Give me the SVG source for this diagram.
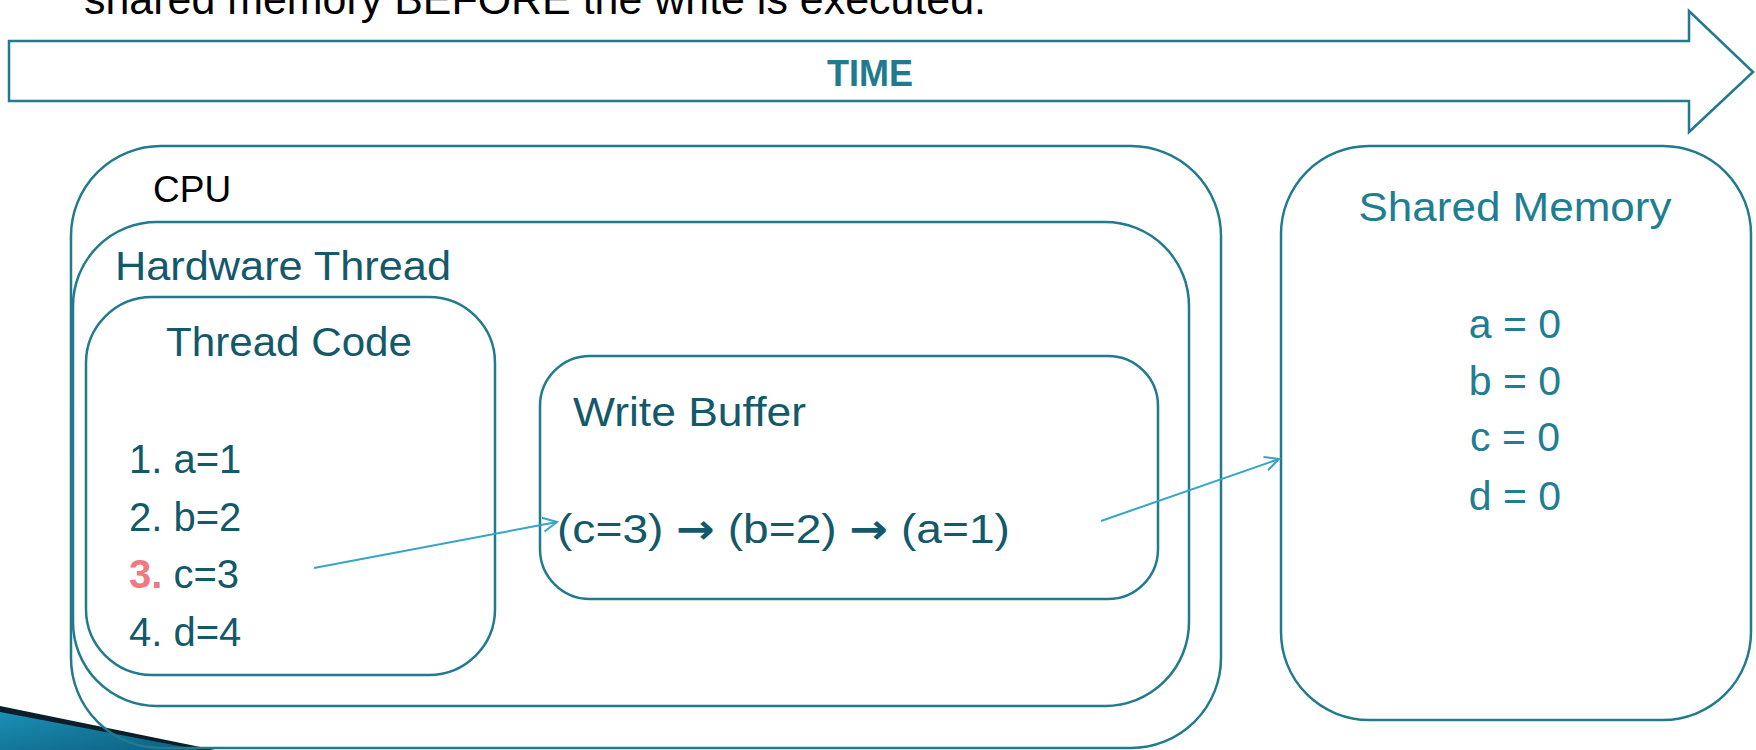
<svg xmlns="http://www.w3.org/2000/svg" width="1756" height="750" viewBox="0 0 1756 750">
  <defs>
    <style>
      .box { fill: #ffffff; stroke: #217a8e; stroke-width: 2.5; }
      .t { font-family: "Liberation Sans", Arial, sans-serif; }
      .dark { fill: #13596a; }
      .mem { fill: #217d92; }
      .arrowglyph { font-family: "DejaVu Sans", sans-serif; font-weight: bold; }
      .wire { fill: none; stroke: #34a5c6; stroke-width: 2; }
    </style>
    <marker id="openHead" viewBox="0 0 20 20" refX="18" refY="10" markerWidth="20" markerHeight="20" markerUnits="userSpaceOnUse" orient="auto">
      <path d="M4,3 L18,10 L4,17" fill="none" stroke="#34a5c6" stroke-width="2"/>
    </marker>
    <linearGradient id="wedgeFill" x1="0" y1="0" x2="1" y2="1">
      <stop offset="0" stop-color="#1b8fb4"/>
      <stop offset="1" stop-color="#0c5f80"/>
    </linearGradient>
  </defs>

  <!-- heading line, cut off at the top edge -->
  <text class="t" x="84" y="14" font-size="43" fill="#000000" textLength="902" lengthAdjust="spacingAndGlyphs">shared memory BEFORE the write is executed.</text>

  <!-- time arrow -->
  <g id="time">
    <path d="M9,41 L1689,41 L1689,11 L1753,72 L1689,132 L1689,101 L9,101 Z" fill="#ffffff" stroke="#217a8e" stroke-width="2.5"/>
    <text class="t" x="870" y="86" font-size="36" font-weight="bold" fill="#217a8e" text-anchor="middle">TIME</text>
  </g>

  <!-- corner decoration -->
  <g id="corner">
    <polygon points="0,706 215,750 0,750" fill="#0a1f2a"/>
    <polygon points="0,712 200,750 0,750" fill="url(#wedgeFill)"/>
  </g>

  <g id="cpu">
    <rect class="box" x="71" y="146" width="1150" height="602" rx="90" ry="90" fill="none" style="fill:none"/>
    <text class="t" x="153" y="202" font-size="37" fill="#000000">CPU</text>
  </g>

  <g id="hardware-thread">
    <rect class="box" x="73" y="222" width="1116" height="484" rx="84" ry="84"/>
    <text class="t dark" x="115" y="280" font-size="41" textLength="336" lengthAdjust="spacingAndGlyphs">Hardware Thread</text>
  </g>

  <g id="thread-code">
    <rect class="box" x="86" y="297" width="409" height="378" rx="66" ry="66"/>
    <text class="t dark" x="166" y="356" font-size="41" textLength="246" lengthAdjust="spacingAndGlyphs">Thread Code</text>
    <text class="t dark" x="129" y="473" font-size="40">1. a=1</text>
    <text class="t dark" x="129" y="531" font-size="40">2. b=2</text>
    <text class="t dark" x="129" y="588" font-size="40"><tspan fill="#ee7a80" font-weight="bold">3.</tspan> c=3</text>
    <text class="t dark" x="129" y="646" font-size="40">4. d=4</text>
  </g>

  <g id="write-buffer">
    <rect class="box" x="540" y="356" width="618" height="243" rx="50" ry="50"/>
    <text class="t dark" x="573" y="426" font-size="41" textLength="233" lengthAdjust="spacingAndGlyphs">Write Buffer</text>
    <text class="t dark" x="557" y="543" font-size="41" textLength="453" lengthAdjust="spacingAndGlyphs">(c=3) <tspan class="arrowglyph">→</tspan> (b=2) <tspan class="arrowglyph">→</tspan> (a=1)</text>
  </g>

  <g id="shared-memory">
    <rect class="box" x="1281" y="146" width="470" height="574" rx="88" ry="88"/>
    <text class="t mem" x="1515" y="221" font-size="40" text-anchor="middle" textLength="313" lengthAdjust="spacingAndGlyphs">Shared Memory</text>
    <text class="t mem" x="1515" y="338" font-size="41" text-anchor="middle">a = 0</text>
    <text class="t mem" x="1515" y="395" font-size="41" text-anchor="middle">b = 0</text>
    <text class="t mem" x="1515" y="451" font-size="41" text-anchor="middle">c = 0</text>
    <text class="t mem" x="1515" y="510" font-size="41" text-anchor="middle">d = 0</text>
  </g>

  <g id="connectors">
    <line class="wire" x1="314" y1="568" x2="557" y2="522" marker-end="url(#openHead)"/>
    <line class="wire" x1="1101" y1="521" x2="1279" y2="459" marker-end="url(#openHead)"/>
  </g>
</svg>
